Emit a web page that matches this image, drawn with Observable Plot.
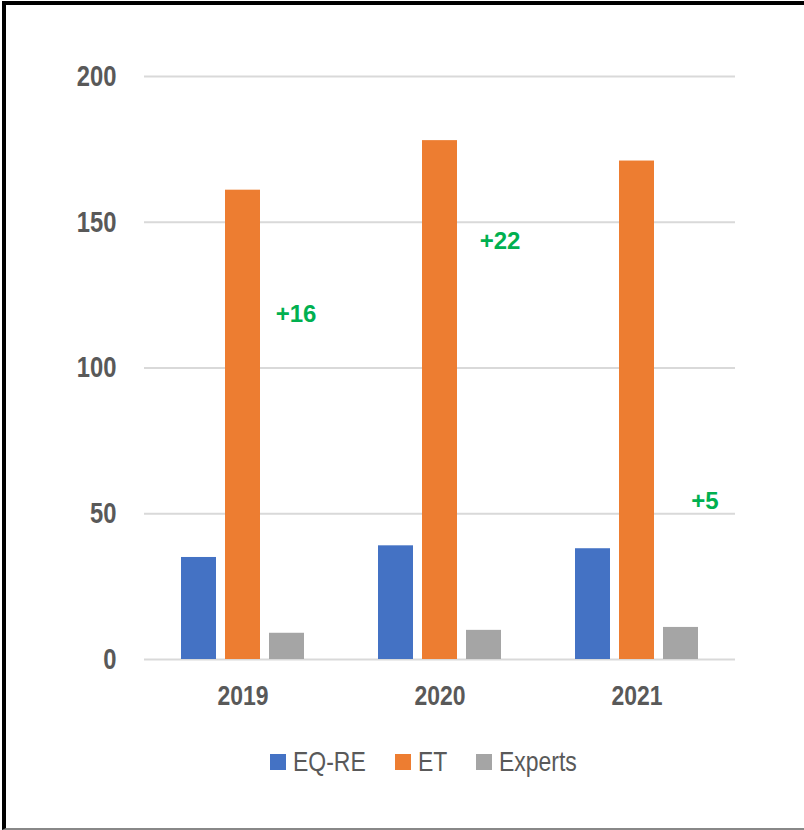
<!DOCTYPE html>
<html>
<head>
<meta charset="utf-8">
<script src="https://cdn.jsdelivr.net/npm/d3@7"></script>
<script src="https://cdn.jsdelivr.net/npm/@observablehq/plot@0.6"></script>
<style>
  html, body { margin: 0; padding: 0; background: #fff; }
  #wrap { position: relative; width: 804px; height: 830px; overflow: hidden; background: #fff; }
  #frame { position: absolute; left: 2px; top: 1px; width: 900px; height: 823px;
           border: 4px solid #000; border-bottom: 2px solid #888; box-sizing: content-box; }
  #chart { position: absolute; left: 0; top: 0; }
  #legend { position: absolute; left: 270px; top: 746px; height: 32px; display: flex; align-items: center;
            font-family: "Liberation Sans", Arial, sans-serif;
            font-size: 28px; color: #595959; white-space: nowrap; }
  #legend .item { display: flex; align-items: center; margin-right: 29px; }
  #legend .sw { width: 16px; height: 16px; margin-right: 7px; flex: none; }
  #legend .txt { display: inline-block; transform: scaleX(0.82); transform-origin: left center; overflow: visible; }
</style>
</head>
<body>
<div id="wrap">
  <div id="frame"></div>
  <div id="chart"></div>
  <div id="legend"></div>
</div>
<script>
// ---- data ----
const years = ["2019", "2020", "2021"];
const seriesNames = ["EQ-RE", "ET", "Experts"];
const eqRe = [35, 39, 38];
const et = [161, 178, 171];
const experts = [9, 10, 11];
const seriesColors = ["#4472C4", "#ED7D31", "#A5A5A5"];
const yTicks = [0, 50, 100, 150, 200];
const annotationLabels = ["+16", "+22", "+5"];
const annotationY = [118.5, 143.4, 54.2];

// ---- build table ----
const seriesValues = [eqRe, et, experts];
const rows = [];
years.forEach((yr, i) => {
  seriesNames.forEach((s, j) => rows.push({year: yr, series: s, value: seriesValues[j][i]}));
});
const notes = years.map((yr, i) => ({year: yr, label: annotationLabels[i], y: annotationY[i], idx: i}));
const noteDx = [9, 16, 24];

const sans = '"Liberation Sans", Arial, sans-serif';

const chart = Plot.plot({
  width: 804,
  height: 720,
  marginLeft: 143,
  marginRight: 69,
  marginTop: 76,
  marginBottom: 61,
  style: {background: "transparent", overflow: "visible"},
  fx: {domain: years, padding: 0, label: null},
  x: {domain: seriesNames, paddingInner: 0.21, paddingOuter: 0.84, axis: null},
  y: {domain: [0, 200], label: null},
  color: {domain: seriesNames, range: seriesColors},
  marks: [
    Plot.gridY(yTicks, {stroke: "#d9d9d9", strokeOpacity: 1, strokeWidth: 2}),
    Plot.axisY(yTicks, {tickSize: 0, tickPadding: 28, fontSize: 29, fontWeight: "bold",
      fill: "#595959", fontFamily: sans, label: null}),
    Plot.axisFx({anchor: "bottom", tickSize: 0, tickPadding: 26, fontSize: 28, fontWeight: "bold",
      fill: "#595959", fontFamily: sans, label: null}),
    Plot.barY(rows, {fx: "year", x: "series", y: "value", fill: "series"}),
    ...notes.map(n => Plot.text([n], {fx: "year", x: () => "Experts", y: "y", text: "label",
      dx: noteDx[n.idx], fill: "#00B050", fontSize: 24, fontWeight: "bold",
      fontFamily: sans}))
  ]
});
document.getElementById("chart").appendChild(chart);

// narrow (Arial Narrow-like) rendering of the axis labels, keeping Plot's own positioning
function narrowText(sel, anchor) {
  chart.querySelectorAll(sel).forEach(t => {
    const b = t.getBBox();
    const ax = anchor === "right" ? b.x + b.width : b.x + b.width / 2;
    const prev = t.getAttribute("transform") || "";
    t.setAttribute("transform", `${prev} translate(${ax},0) scale(0.82,1) translate(${-ax},0)`.trim());
  });
}
narrowText('[aria-label="y-axis tick label"] text', "right");
narrowText('[aria-label="fx-axis tick label"] text', "center");

// ---- legend ----
const legend = document.getElementById("legend");
const spans = [];
seriesNames.forEach((s, i) => {
  const item = document.createElement("div");
  item.className = "item";
  const sw = document.createElement("div");
  sw.className = "sw";
  sw.style.background = seriesColors[i];
  const t = document.createElement("span");
  t.className = "txt";
  t.textContent = s;
  item.appendChild(sw);
  item.appendChild(t);
  legend.appendChild(item);
  spans.push(t);
});
spans.forEach(t => { const w = t.getBoundingClientRect().width; t.style.width = w + "px"; });
</script>
</body>
</html>
